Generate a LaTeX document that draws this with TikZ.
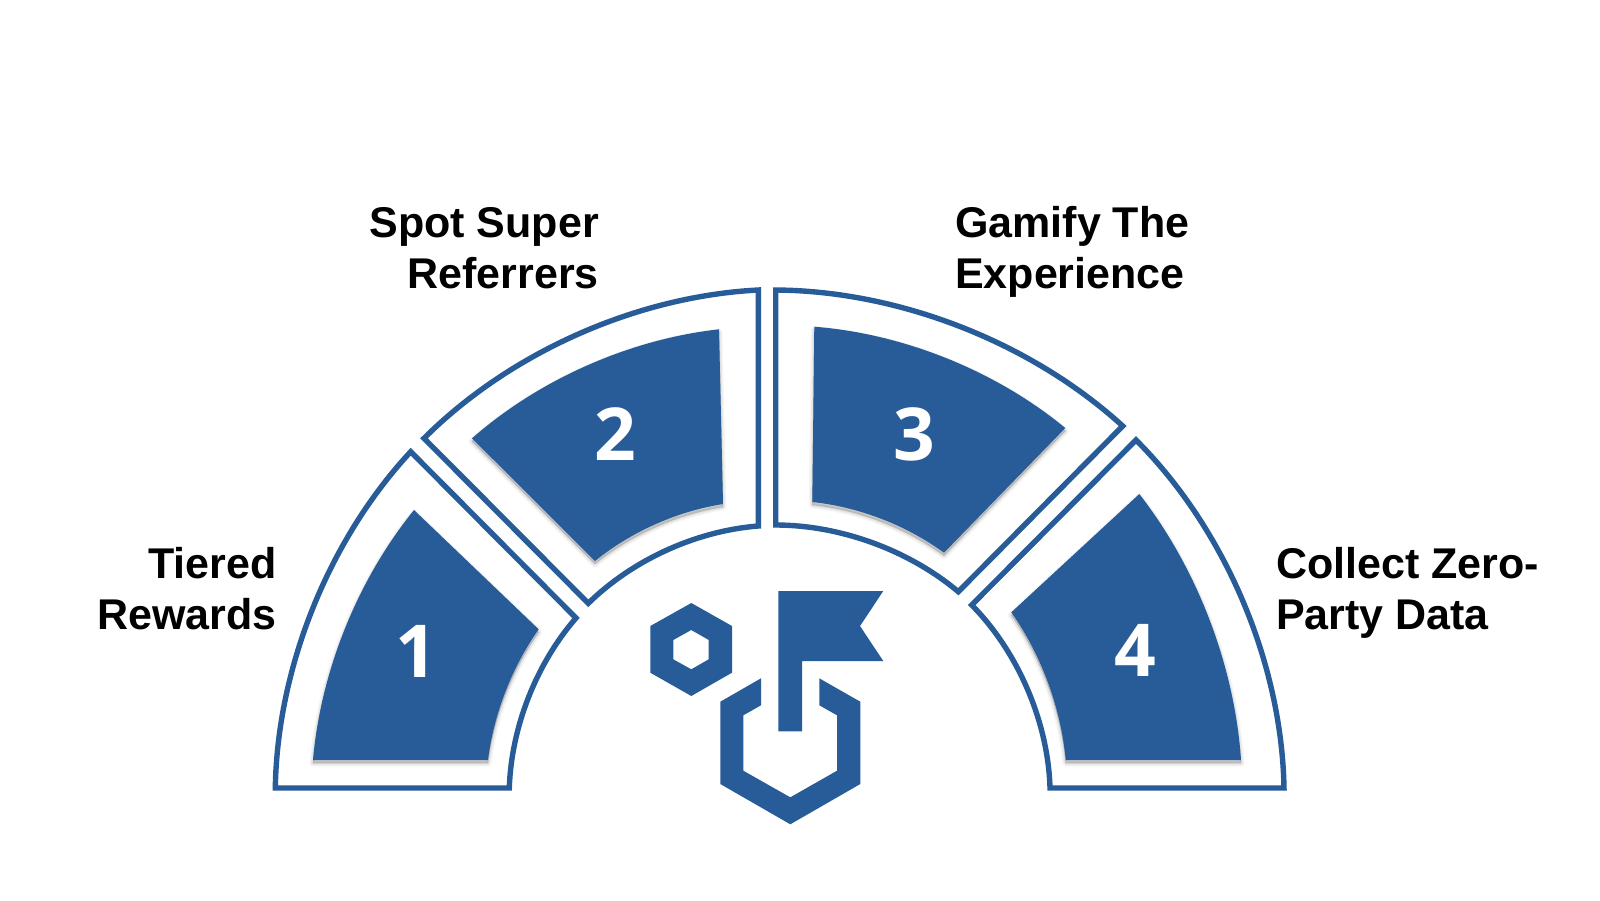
\documentclass[tikz,border=0pt]{standalone}
\usepackage{fontspec}
\setmainfont{Liberation Sans}
\newfontfamily\labfont{Liberation Sans}
\newfontfamily\numfont{Open Sans}
\definecolor{brand}{HTML}{285C99}
\tikzset{
  rim/.style={draw=brand,line width=5.4pt,miter limit=10,fill=white},
  solid blue/.style={fill=brand},
  arcto/.style={bend left=#1,looseness=0.85},
  arcback/.style={bend right=#1,looseness=0.85},
  label text/.style={inner sep=0pt,text=black,font=\labfont\bfseries\fontsize{43}{51}\selectfont},
  digit/.style={anchor=base,inner sep=0pt,text=white,font=\numfont\bfseries\fontsize{73}{73}\selectfont},
}
\newcommand\softshadow[1]{%
  \foreach \w/\o in {7/.04,4/.06,1/.08}{%
    \path[fill=black,draw=black,opacity=\o,line width=\w pt,line join=round,shift={(0,3)}] #1;}
  \fill[solid blue] #1;}
\begin{document}
\begin{tikzpicture}[x=1pt,y=1pt,yscale=-1]
\useasboundingbox (0,0) rectangle (1600,900);
\fill[white] (0,0) rectangle (1600,900);
% outlines
\draw[rim] (275.3,788) to[arcback=21] (410.7,451.7) -- (576,618) to[arcto=19.6] (509.3,788) -- cycle;
\draw[rim] (424,438.3) to[arcback=21] (758.3,290) -- (758.3,526) to[arcto=20] (588.3,603.3) -- cycle;
\draw[rim] (775.7,290) to[arcback=21] (1122.7,426) -- (958.3,591.7) to[arcto=20] (775.7,525) -- cycle;
\draw[rim] (1136,440) to[arcback=22] (1284,788) -- (1050,788) to[arcto=21.5] (971.7,605) -- cycle;
% filled blocks
\softshadow{(313,760) to[arcback=17] (414,510) -- (538.7,629.3) to[arcto=14] (488,760) -- cycle}
\softshadow{(472,438.3) to[arcback=17.5] (719,329.3) -- (723,504) to[arcto=15] (595,561) -- cycle}
\softshadow{(814.3,326.7) to[arcback=17.5] (1065.3,428) -- (944,552.7) to[arcto=15] (812.3,502) -- cycle}
\softshadow{(1139.3,494) to[arcback=17] (1241,760) -- (1065.7,760) to[arcto=15] (1011.3,612.3) -- cycle}
% digits
\node[digit] (n1) at (416.5,677.7) {1};
\node[digit] (n2) at (615,460) {2};
\node[digit] (n3) at (914,460.3) {3};
\node[digit] (n4) at (1135,676.5) {4};
% icon
\fill[brand,even odd rule]
  (691.3,603) -- (732,626) -- (732,672.7) -- (691.3,696) -- (650.3,672.7) -- (650.3,626) -- cycle
  (691.3,630) -- (708.7,640) -- (708.7,659.3) -- (691.3,669.3) -- (673.3,659.3) -- (673.3,640) -- cycle;
\fill[brand] (778.3,591) -- (883.3,591) -- (860,626) -- (883.3,661) -- (802,661) -- (802,731.3) -- (778.3,731.3) -- cycle;
\fill[brand] (761,678.3) -- (720.3,701.7) -- (720.3,784) -- (790.3,824.3) -- (860.3,784) -- (860.3,701.7) -- (819.3,678.3) -- (819.3,705.3) -- (837,715.3) -- (837,770.7) -- (790.3,797.3) -- (743.3,770.7) -- (743.3,715.3) -- (761,705.3) -- cycle;
% labels
\node[label text,align=right,anchor=north east] (l1) at (276.5,547) {Tiered\\Rewards};
\node[label text,align=right,anchor=north east] (l2) at (599,207) {Spot Super\\Referrers};
\node[label text,align=left,anchor=north west] (l3) at (955,206) {Gamify The\\Experience};
\node[label text,align=left,anchor=north west] (l4) at (1276,547) {Collect Zero-\\Party Data};
\end{tikzpicture}
\end{document}
